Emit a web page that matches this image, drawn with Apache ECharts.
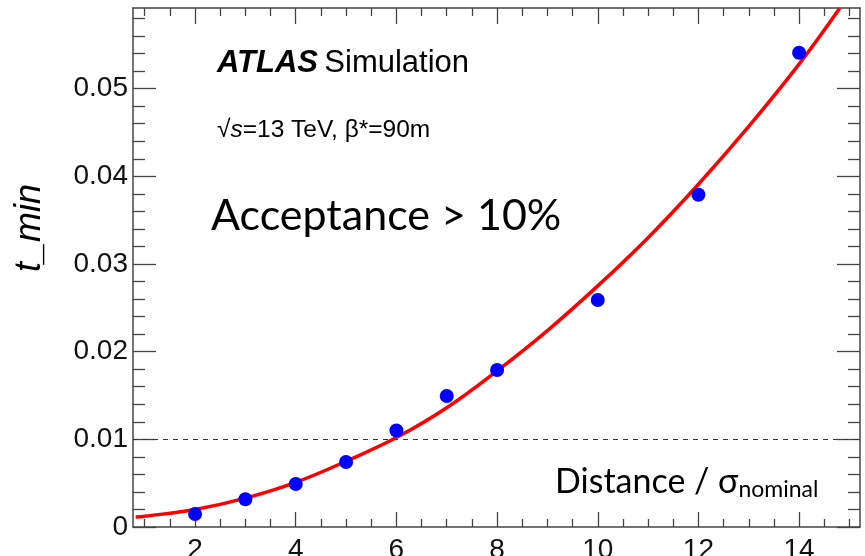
<!DOCTYPE html>
<html>
<head>
<meta charset="utf-8">
<script src="https://cdn.jsdelivr.net/npm/echarts@6/dist/echarts.min.js"></script>
<style>html,body{margin:0;padding:0;background:#fff}#c{width:865px;height:556px}</style>
</head>
<body>
<div id="c"></div>
<script>
// Simulated points (distance / sigma_nominal, t_min)
const pointX = [2, 3, 4, 5, 6, 7, 8, 10, 12, 14];
const pointY = [0.00148, 0.00316, 0.0049, 0.00742, 0.011, 0.01495, 0.0179, 0.0259, 0.0379, 0.0541];
// Fit curve
const fitX = [0.82, 1, 2, 3, 4, 5, 6, 7, 8, 9, 10, 11, 12, 13, 14, 14.81];
const fitY = [0.00115, 0.00123, 0.0020, 0.0033, 0.0051, 0.0075, 0.0102, 0.0136, 0.0178, 0.0224, 0.0275, 0.0330, 0.0391, 0.0457, 0.0528, 0.0592];
// Tick values
const xMajor = [2, 4, 6, 8, 10, 12, 14];
const xMinor = [1, 1.5, 2.5, 3, 3.5, 4.5, 5, 5.5, 6.5, 7, 7.5, 8.5, 9, 9.5, 10.5, 11, 11.5, 12.5, 13, 13.5, 14.5, 15];
const yMajor = [0, 0.01, 0.02, 0.03, 0.04, 0.05];
const yMinor = [0.002, 0.004, 0.006, 0.008, 0.012, 0.014, 0.016, 0.018, 0.022, 0.024, 0.026, 0.028,
  0.032, 0.034, 0.036, 0.038, 0.042, 0.044, 0.046, 0.048, 0.052, 0.054, 0.056, 0.058];
const thresholdY = 0.01;

const X_MIN = 0.767, X_MAX = 15.21, Y_MIN = 0, Y_MAX = 0.0592;
const frameColor = '#444';
const labelFont = {fontFamily: 'Liberation Sans, Arial, sans-serif', fontSize: 28, color: '#111'};

function xAx(pos, ticks, len, showLine, showLabel) {
  return {
    type: 'value', min: X_MIN, max: X_MAX, position: pos,
    axisLine: {show: showLine, onZero: false, lineStyle: {color: frameColor, width: 1.5}},
    axisTick: {show: true, inside: true, length: len, customValues: ticks, lineStyle: {color: frameColor, width: 1.3}},
    axisLabel: showLabel ? Object.assign({show: true, customValues: ticks, margin: 9}, labelFont) : {show: false},
    splitLine: {show: false}
  };
}
function yAx(pos, ticks, len, showLine, showLabel) {
  return {
    type: 'value', min: Y_MIN, max: Y_MAX, position: pos,
    axisLine: {show: showLine, onZero: false, lineStyle: {color: frameColor, width: 1.5}},
    axisTick: {show: true, inside: true, length: len, customValues: ticks, lineStyle: {color: frameColor, width: 1.3}},
    axisLabel: showLabel ? Object.assign({show: true, customValues: ticks, margin: 5, formatter: v => String(v)}, labelFont) : {show: false},
    splitLine: {show: false}
  };
}

const chart = echarts.init(document.getElementById('c'), null, {renderer: 'canvas'});
chart.setOption({
  animation: false,
  backgroundColor: '#fff',
  grid: {left: 133, right: 5, top: 8, bottom: 29, containLabel: false, outerBoundsMode: 'none'},
  xAxis: [
    xAx('bottom', xMajor, 15, true, true),
    xAx('bottom', xMinor, 8, false, false),
    xAx('top', xMajor, 16, true, false),
    xAx('top', xMinor, 8, false, false)
  ],
  yAxis: [
    yAx('left', yMajor, 23, true, true),
    yAx('left', yMinor, 12, false, false),
    yAx('right', yMajor, 23, true, false),
    yAx('right', yMinor, 12, false, false)
  ],
  series: [
    {
      type: 'line', xAxisIndex: 0, yAxisIndex: 0,
      data: fitX.map((x, i) => [x, fitY[i]]),
      smooth: 0.4, showSymbol: false, symbol: 'none', clip: true,
      lineStyle: {color: '#ff0000', width: 3.5},
      markLine: {
        silent: true, symbol: 'none', label: {show: false},
        lineStyle: {color: '#333', type: [5, 5], width: 1.2},
        data: [{yAxis: thresholdY}]
      },
      z: 3
    },
    {
      type: 'scatter', xAxisIndex: 0, yAxisIndex: 0,
      data: pointX.map((x, i) => [x, pointY[i]]),
      symbol: 'circle', symbolSize: 14,
      itemStyle: {color: '#0000ff', opacity: 1},
      z: 4
    }
  ],
  graphic: [
    {
      type: 'text', x: 217, y: 63,
      style: {
        text: '{b|ATLAS} {n|Simulation}',
        verticalAlign: 'middle',
        rich: {
          b: {fontFamily: 'Liberation Sans, Arial', fontSize: 31, fontWeight: 'bold', fontStyle: 'italic', fill: '#000'},
          n: {fontFamily: 'Liberation Sans, Arial', fontSize: 31, fill: '#000', padding: [0, 0, 0, 3]}
        }
      }
    },
    {
      type: 'text', x: 217, y: 130,
      style: {
        text: '{r|√}{i|s}{r|=13 TeV, β*=90m}',
        verticalAlign: 'middle',
        rich: {
          r: {fontFamily: 'Liberation Sans, Arial', fontSize: 24.5, fill: '#000'},
          i: {fontFamily: 'Liberation Sans, Arial', fontSize: 24.5, fontStyle: 'italic', fill: '#000'}
        }
      }
    },
    {
      type: 'text', x: 211, y: 216,
      style: {
        text: 'Acceptance > 10%', verticalAlign: 'middle',
        fontFamily: 'Lato, Carlito, Calibri, sans-serif', fontSize: 43, fill: '#000'
      }
    },
    {
      type: 'text', x: 555, y: 482,
      style: {
        text: '{m|Distance / σ}{s|nominal}',
        verticalAlign: 'middle',
        rich: {
          m: {fontFamily: 'Lato, Carlito, Calibri, sans-serif', fontSize: 34, fill: '#000'},
          s: {fontFamily: 'Lato, Carlito, Calibri, sans-serif', fontSize: 23, fill: '#000', padding: [16, 0, 0, 0]}
        }
      }
    },
    {
      type: 'text', x: 30, y: 228, rotation: Math.PI / 2,
      style: {
        text: 't_min', align: 'center', verticalAlign: 'middle',
        fontFamily: 'Liberation Sans, Arial', fontSize: 36, fontStyle: 'italic', fill: '#000'
      }
    }
  ]
});
</script>
</body>
</html>
